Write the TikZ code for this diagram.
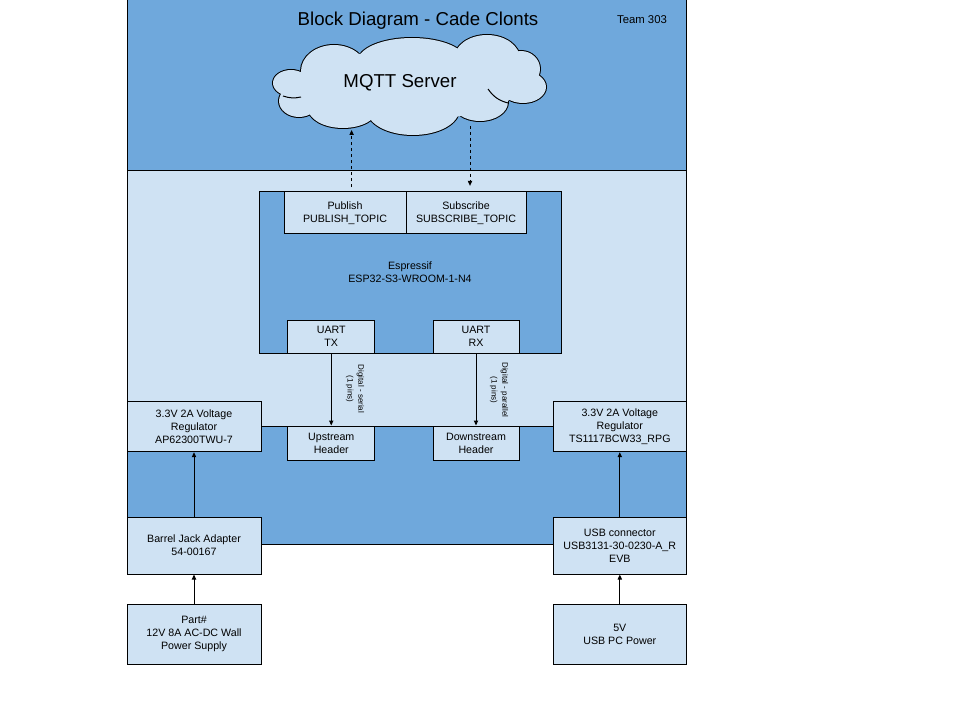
\documentclass[tikz,border=0pt]{standalone}
\usepackage{fontspec}
\setmainfont{Liberation Sans}
\usetikzlibrary{arrows.meta,calc}
\definecolor{dkblue}{HTML}{6FA8DC}
\definecolor{ltblue}{HTML}{CFE2F3}
\begin{document}
\begin{tikzpicture}[x=0.75pt,y=-0.75pt,line width=0.75pt,
  blk/.style={draw=black,fill=ltblue,align=center,inner sep=0pt,
    font=\fontsize{8}{9.75}\selectfont},
  arr/.style={-{Triangle[length=3.75pt,width=3.2pt]}},
  darr/.style={arr,dash pattern=on 2.25pt off 2.25pt},
  vlbl/.style={rotate=-90,align=center,inner sep=0pt,font=\fontsize{6}{8}\selectfont},
  puffs/.pic={
    \path[pic actions] (291,83) ellipse[x radius=18,y radius=13];
    \path[pic actions] (334,71) ellipse[x radius=33,y radius=26];
    \path[pic actions] (412,61) ellipse[x radius=54,y radius=23];
    \path[pic actions] (487,59) ellipse[x radius=33,y radius=24];
    \path[pic actions] (521,69) ellipse[x radius=19,y radius=18];
    \path[pic actions] (523,87) ellipse[x radius=23,y radius=16];
    \path[pic actions] (480,102) ellipse[x radius=28,y radius=19];
    \path[pic actions] (413,110) ellipse[x radius=46,y radius=25];
    \path[pic actions] (343,108) ellipse[x radius=35,y radius=20];
    \path[pic actions] (299,101) ellipse[x radius=20,y radius=16];
  }]
\useasboundingbox (0,0) rectangle (960,720);
% backgrounds
\draw[fill=dkblue] (127,0) rectangle (686,544);
\draw[fill=ltblue] (127,170.7) rectangle (686,426);
% title
\node[font=\fontsize{14}{16}\selectfont] (title) at (418,21) {Block Diagram - Cade Clonts};
\node[font=\fontsize{8.5}{10}\selectfont] (team) at (642,20) {Team 303};
% cloud: union of puffs
\pic[draw=black,line width=1.5pt] {puffs};
\pic[fill=ltblue] {puffs};
\fill[ltblue] (410,85) ellipse[x radius=110,y radius=35];
\draw (283,96) to[bend right=15] (301,97);
\draw (508,103) to[bend left=20] (488,89);
\node[font=\fontsize{14}{16}\selectfont] (mqtt) at (400,83) {MQTT Server};
% ESP module
\node[blk,fill=dkblue,minimum width=226.5pt,minimum height=121pt] (esp) at (410,272.35)
  {Espressif\\ESP32-S3-WROOM-1-N4};
\node[blk,minimum width=91.5pt,minimum height=31.7pt] (pub) at (345,212.85) {Publish\\PUBLISH\_TOPIC};
\node[blk,minimum width=90pt,minimum height=31.7pt] (sub) at (466,212.85) {Subscribe\\SUBSCRIBE\_TOPIC};
\node[blk,minimum width=65.6pt,minimum height=24.75pt] (tx) at (331.25,336.5) {UART\\TX};
\node[blk,minimum width=64.5pt,minimum height=24.75pt] (rx) at (476,336.5) {UART\\RX};
% headers
\node[blk,minimum width=65.6pt,minimum height=25.5pt] (up) at (331.25,443) {Upstream\\Header};
\node[blk,minimum width=64.5pt,minimum height=25.5pt] (down) at (476,443) {Downstream\\Header};
% regulators
\node[blk,minimum width=100.5pt,minimum height=38pt] (regL) at (194,426.35)
  {3.3V 2A Voltage\\Regulator\\AP62300TWU-7};
\node[blk,minimum width=99.3pt,minimum height=38pt] (regR) at (619.8,426.35)
  {3.3V 2A Voltage\\Regulator\\TS1117BCW33\_RPG};
% connectors / power
\node[blk,minimum width=100.5pt,minimum height=42.75pt] (barrel) at (194,545.5)
  {Barrel Jack Adapter\\54-00167};
\node[blk,minimum width=99.3pt,minimum height=42.75pt] (usb) at (619.8,545.5)
  {USB connector\\USB3131-30-0230-A\_R\\EVB};
\node[blk,minimum width=100.5pt,minimum height=45pt] (part) at (194,634)
  {Part\#\\12V 8A AC-DC Wall\\Power Supply};
\node[blk,minimum width=99.3pt,minimum height=45pt] (v5) at (619.8,634)
  {5V\\USB PC Power};
% labels
\node[vlbl] (lbls) at (355,389) {Digital - serial\\(1 pins)};
\node[vlbl] (lblp) at (499,390) {Digital - parallel\\(1 pins)};
% arrows
\draw[arr] (tx.south) -- (up.north);
\draw[arr] (rx.south) -- (down.north);
\draw[arr] (part.north) -- (barrel.south);
\draw[arr] (barrel.north) -- (regL.south);
\draw[arr] (v5.north) -- (usb.south);
\draw[arr] (usb.north) -- (regR.south);
\draw[darr,shorten <=3pt] ($(pub.north)+(6.6,0)$) -- ($(pub.north |- mqtt.center)+(6.6,47)$);
\draw[darr,shorten >=4pt] ($(sub.north |- mqtt.center)+(4,43)$) -- ($(sub.north)+(4,0)$);
\end{tikzpicture}
\end{document}
